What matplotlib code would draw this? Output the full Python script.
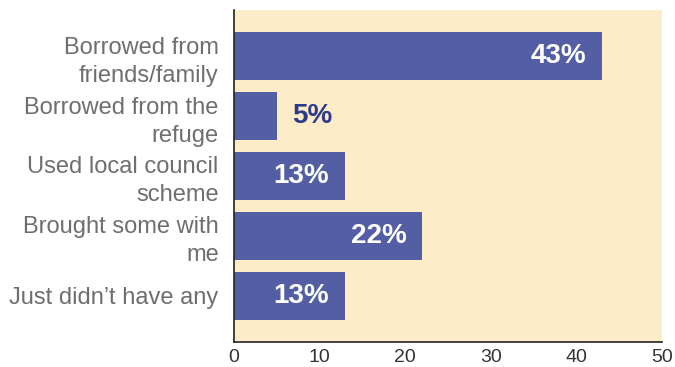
import matplotlib.pyplot as plt

plt.rcParams['font.family'] = ['Liberation Sans', 'DejaVu Sans']

categories = ['Borrowed from\nfriends/family', 'Borrowed from the\nrefuge',
              'Used local council\nscheme', 'Brought some with\nme', 'Just didn\u2019t have any']
values = [43, 5, 13, 22, 13]
xticks = [0, 10, 20, 30, 40, 50]

bar_color = '#535ea5'
bg_color = '#fcecc8'

fig = plt.figure(figsize=(6.75, 3.67), dpi=100)
ax = fig.add_axes([234 / 675, 1 - 342 / 367, 428 / 675, 332 / 367])
ax.set_facecolor(bg_color)

pos = list(range(len(categories)))
ax.barh(pos, values, height=0.8, color=bar_color, zorder=2)

# value labels: inside the bar when there is room, otherwise just past the end
for y, v in zip(pos, values):
    if v >= 10:
        ax.annotate(f'{v}%', (v, y), xytext=(-16, 0), textcoords='offset pixels',
                    ha='right', va='center', color='white', fontsize=20,
                    fontweight='bold')
    else:
        ax.annotate(f'{v}%', (v, y), xytext=(15, 0), textcoords='offset pixels',
                    ha='left', va='center', color='#2e3a8c', fontsize=20,
                    fontweight='bold')

ax.set_xlim(0, 50)
ax.set_ylim(4.77, -0.77)
ax.set_xticks(xticks)
ax.set_yticks(pos)
ax.set_yticklabels(categories, fontsize=17, color='#6e6e6e', linespacing=1.35)
ax.tick_params(axis='x', length=0, pad=5, labelsize=14, labelcolor='#333333')
ax.tick_params(axis='y', length=0, pad=11)

for side in ['top', 'right']:
    ax.spines[side].set_visible(False)
for side in ['left', 'bottom']:
    ax.spines[side].set_color('#222222')
    ax.spines[side].set_linewidth(1.2)

fig.savefig('out.png', dpi=100)
